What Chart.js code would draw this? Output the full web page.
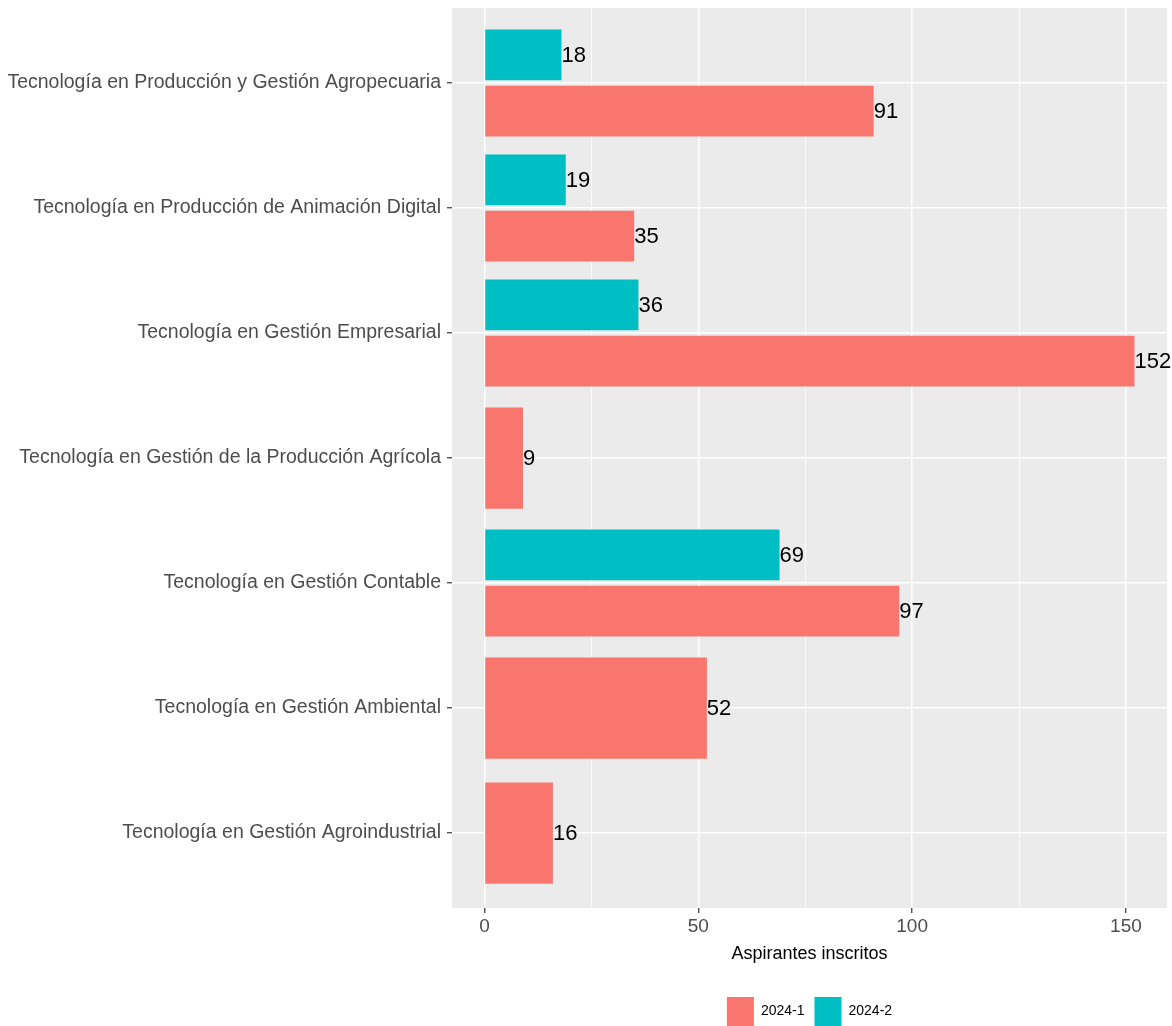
<!DOCTYPE html>
<html>
<head>
<meta charset="utf-8">
<script src="https://cdn.jsdelivr.net/npm/chart.js@4.4.0/dist/chart.umd.min.js"></script>
<style>
    html, body { margin: 0; padding: 0; background: #ffffff; }
    #wrap { width: 1172px; height: 1026px; }
</style>
</head>
<body>
<div id="wrap"><canvas id="aspirantes-chart"></canvas></div>
<script>
const programs = [
    'Tecnología en Producción y Gestión Agropecuaria',
    'Tecnología en Producción de Animación Digital',
    'Tecnología en Gestión Empresarial',
    'Tecnología en Gestión de la Producción Agrícola',
    'Tecnología en Gestión Contable',
    'Tecnología en Gestión Ambiental',
    'Tecnología en Gestión Agroindustrial',
];
const periods = ['2024-1', '2024-2'];
const inscritos20241 = [91, 35, 152, 9, 97, 52, 16];
const inscritos20242 = [18, 19, 36, null, 69, null, null];
const xTicks = [0, 25, 50, 75, 100, 125, 150];
const xTitle = 'Aspirantes inscritos';

const FONT = "'Liberation Sans', Arial, sans-serif";

// programs go on a numeric axis (1..7) so ggplot-like spacing can be kept
function toPoints(values) {
    return values.map((v, i) => ({ x: v, y: i + 1 }));
}

const panelBackground = {
    id: 'panelBackground',
    beforeDraw(chart) {
        const { ctx, chartArea } = chart;
        ctx.save();
        ctx.fillStyle = '#EBEBEB';
        ctx.fillRect(chartArea.left, chartArea.top, chartArea.width, chartArea.height);
        ctx.restore();
    },
};

const valueLabels = {
    id: 'valueLabels',
    afterDatasetsDraw(chart) {
        const { ctx } = chart;
        ctx.save();
        ctx.font = '22px ' + FONT;
        ctx.fillStyle = '#000000';
        ctx.textAlign = 'left';
        ctx.textBaseline = 'middle';
        chart.data.datasets.forEach((ds, di) => {
            chart.getDatasetMeta(di).data.forEach((bar, i) => {
                const v = ds.data[i].x;
                if (v === null) return;
                ctx.fillText(String(v), bar.x, bar.y + 1);
            });
        });
        ctx.restore();
    },
};

const isMajor = (v) => v % 50 === 0;

// eslint-disable-next-line no-undef
const chart = new Chart(document.getElementById('aspirantes-chart').getContext('2d'), {
    type: 'bar',
    data: {
        datasets: [
            {
                label: periods[1],
                data: toPoints(inscritos20242),
                backgroundColor: '#00BFC4',
                borderWidth: 0,
            },
            {
                label: periods[0],
                data: toPoints(inscritos20241),
                backgroundColor: '#F8766D',
                borderWidth: 0,
            },
        ],
    },
    options: {
        indexAxis: 'y',
        responsive: true,
        maintainAspectRatio: false,
        animation: false,
        skipNull: true,
        categoryPercentage: 0.9,
        barPercentage: 0.9,
        layout: { padding: { top: 8, right: 5, bottom: -10, left: 0 } },
        scales: {
            x: {
                type: 'linear',
                min: -7.6,
                max: 159.6,
                afterBuildTicks: (scale) => {
                    scale.ticks = xTicks.map((v) => ({ value: v }));
                },
                afterFit: (scale) => {
                    scale.height = 79;
                },
                border: { display: false },
                grid: {
                    color: '#FFFFFF',
                    lineWidth: (c) => (c.tick && isMajor(c.tick.value) ? 1.5 : 0.75),
                    tickColor: (c) => (c.tick && isMajor(c.tick.value) ? '#333333' : 'rgba(0,0,0,0)'),
                    tickWidth: 1.2,
                    tickLength: 5,
                },
                ticks: {
                    autoSkip: false,
                    maxRotation: 0,
                    padding: 2,
                    color: '#4D4D4D',
                    font: { family: FONT, size: 19 },
                    callback: (v) => (isMajor(v) ? v : ''),
                },
                title: {
                    display: true,
                    text: xTitle,
                    color: '#000000',
                    font: { family: FONT, size: 18 },
                    padding: { top: 0, bottom: 22 },
                },
            },
            y: {
                type: 'linear',
                reverse: true,
                offset: false,
                min: 0.4,
                max: 7.6,
                afterBuildTicks: (scale) => {
                    scale.ticks = programs.map((p, i) => ({ value: i + 1 }));
                },
                afterFit: (scale) => {
                    scale.width = 452;
                    // labels sit well inside the panel, no extra room needed
                    scale.paddingTop = 0;
                    scale.paddingBottom = 0;
                },
                border: { display: false },
                grid: {
                    offset: false,
                    color: '#FFFFFF',
                    lineWidth: 1.5,
                    tickColor: '#333333',
                    tickWidth: 1.2,
                    tickLength: 5,
                },
                ticks: {
                    autoSkip: false,
                    padding: 6,
                    color: '#4D4D4D',
                    font: { family: FONT, size: 19.5 },
                    callback: (v) => programs[v - 1],
                },
            },
        },
        plugins: {
            legend: {
                position: 'bottom',
                reverse: true,
                fullSize: false,
                labels: {
                    boxWidth: 27,
                    boxHeight: 29,
                    padding: 10,
                    color: '#000000',
                    font: { family: FONT, size: 14 },
                },
            },
            tooltip: { enabled: false },
        },
    },
    plugins: [panelBackground, valueLabels],
});
</script>
</body>
</html>
